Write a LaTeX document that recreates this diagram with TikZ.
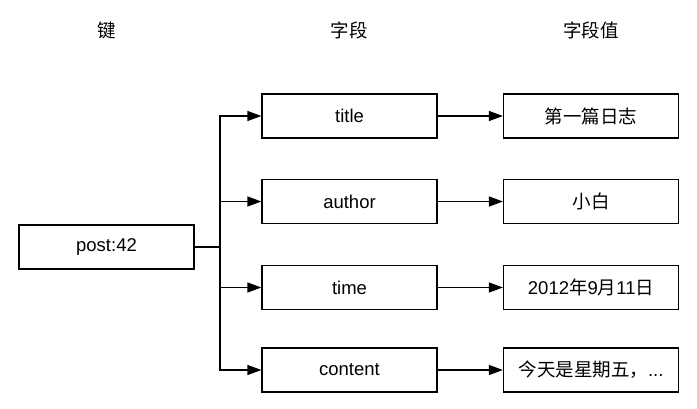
\documentclass[tikz,border=0pt]{standalone}
\usepackage{fontspec}
\setmainfont{Liberation Sans}
\newfontfamily\cjk{Noto Sans CJK SC}
\usetikzlibrary{arrows.meta,positioning,calc}
\tikzset{field/.style={draw=black,rectangle,minimum width=175pt,minimum height=44pt,inner sep=0pt,line width=1.2pt}}
\tikzset{head/.style={inner sep=0pt}}

\begin{document}
\begin{tikzpicture}[x=1pt, y=-1pt, line width=1.2pt, >={Triangle[length=14pt,width=10pt]}, font=\fontsize{18.5}{22}\selectfont]
        \useasboundingbox (0,0) rectangle (697,409);
        \node[head] (H1) at (106.5,30) {\cjk 键};
        \node[head] (H2) at (349,30) {\cjk 字段};
        \node[head] (H3) at (591,30) {\cjk 字段值};
        \node[field] (K) at (106.5,247) {post:42};
        \node[field] (F1) at (349.5,116) {title};
        \node[field] (F2) at (349.5,201.5) {author};
        \node[field] (F3) at (349.5,287.5) {time};
        \node[field] (F4) at (349.5,370) {content};
        \node[field] (V1) at (591,116) {\cjk 第一篇日志};
        \node[field] (V2) at (591,201.5) {\cjk 小白};
        \node[field] (V3) at (591,287.5) {2012{\cjk 年}9{\cjk 月}11{\cjk 日}};
        \node[field] (V4) at (591,370) {{\cjk 今天是星期五，}...};
        \coordinate (J) at (220,247);
        \draw (K.east) -- (J);
        \foreach \f in {F1,F2,F3,F4}
            \draw[->] (J) |- (\f.west);
        \foreach \i in {1,2,3,4}
            \draw[->] (F\i.east) -- (V\i.west);
\end{tikzpicture}
\end{document}
